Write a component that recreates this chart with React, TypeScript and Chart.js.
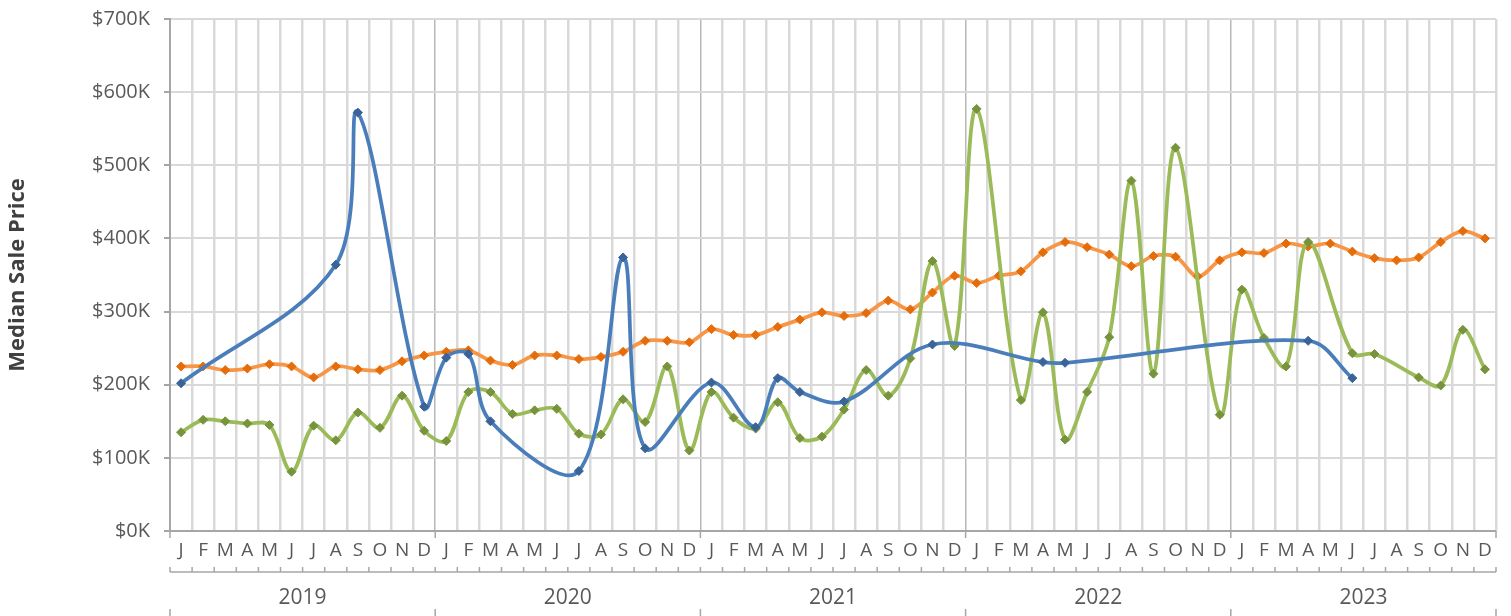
import React, { useEffect, useRef } from "react";
import { Chart, registerables } from "chart.js";

Chart.register(...registerables);

const months = ["J", "F", "M", "A", "M", "J", "J", "A", "S", "O", "N", "D"];
const years = ["2019", "2020", "2021", "2022", "2023"];
const categories: string[] = years.flatMap(() => months);

const yTicks = [0, 100, 200, 300, 400, 500, 600, 700];

// values in $K
const orangeSeries = [
  225, 225, 220, 222, 228, 225, 210, 225, 221, 220, 232, 240,
  245, 247, 233, 227, 240, 240, 235, 238, 245, 260, 260, 258,
  276, 268, 268, 279, 289, 299, 294, 298, 315, 303, 326, 349,
  339, 349, 355, 381, 395, 388, 378, 362, 376, 375, 348, 370,
  381, 380, 393, 389, 393, 382, 373, 370, 374, 395, 410, 400,
];

const greenSeries = [
  135, 152, 150, 147, 145, 81, 144, 124, 162, 141, 185, 137,
  123, 190, 190, 160, 165, 167, 133, 132, 180, 149, 225, 110,
  190, 155, 140, 176, 127, 129, 166, 220, 185, 236, 369, 253,
  577, null, 179, 299, 125, 190, 265, 479, 215, 524, null, 159,
  330, 264, 225, 395, null, 243, 242, null, 210, 199, 275, 221,
];

const blueSeries = [
  202, null, null, null, null, null, null, 364, 572, null, null, 170,
  237, 242, 150, null, null, null, 82, null, 374, 113, null, null,
  203, null, 142, 209, 190, null, 177, null, null, null, 255, null,
  null, null, null, 231, 230, null, null, null, null, null, null, null,
  null, null, null, 260, null, 209, null, null, null, null, null, null,
];

const FONT = "'Open Sans', 'Noto Sans', sans-serif";
const TEXT = "#595959";
const AXIS = "#a6a6a6";
const GRID = "#d9d9d9";

const axisDecor = {
  id: "axisDecor",
  afterDraw(chart: any) {
    const { ctx, chartArea } = chart;
    const n = categories.length;
    const left = chartArea.left;
    const right = chartArea.right;
    const step = (right - left) / n;
    const b = chartArea.bottom;
    const y2 = b + 41;
    const line = (x1: number, y1: number, x2: number, yy2: number) => {
      ctx.beginPath();
      ctx.moveTo(x1, y1);
      ctx.lineTo(x2, yy2);
      ctx.stroke();
    };
    ctx.save();
    ctx.strokeStyle = AXIS;
    ctx.lineWidth = 1.5;
    for (let g = 0; g <= years.length; g++) {
      const px = left + g * months.length * step;
      line(px, b, px, b + 7);
      line(px, y2 + 37, px, chart.height);
    }
    line(left, y2, right, y2);
    for (let i = 0; i <= n; i++) {
      const px = left + i * step;
      line(px, y2 - 5, px, y2);
    }
    ctx.fillStyle = TEXT;
    ctx.font = `21px ${FONT}`;
    ctx.textAlign = "center";
    ctx.textBaseline = "middle";
    years.forEach((yr, g) => {
      const cx = left + (g + 0.5) * months.length * step;
      ctx.fillText(yr, cx, y2 + 26);
    });
    ctx.restore();
  },
};

export default function App() {
  const ref = useRef<HTMLCanvasElement | null>(null);

  useEffect(() => {
    if (!ref.current) return;
    const common = {
      borderWidth: 3.75,
      pointStyle: "rectRot",
      pointRadius: 4.5,
      pointBorderWidth: 1,
      tension: 0.35,
      spanGaps: true,
      fill: false,
    };
    const chart = new Chart(ref.current, {
      type: "line",
      data: {
        labels: categories,
        datasets: [
          {
            ...common,
            label: "Blue",
            data: blueSeries,
            borderColor: "#4a7ebb",
            pointBackgroundColor: "#3a6398",
            pointBorderColor: "#3a6398",
            order: 0,
          },
          {
            ...common,
            label: "Green",
            data: greenSeries,
            borderColor: "#9bbb59",
            pointBackgroundColor: "#77933c",
            pointBorderColor: "#77933c",
            order: 1,
          },
          {
            ...common,
            label: "Orange",
            data: orangeSeries,
            borderColor: "#f79646",
            pointBackgroundColor: "#e46c0a",
            pointBorderColor: "#e46c0a",
            order: 2,
          },
        ],
      } as any,
      options: {
        animation: false,
        responsive: false,
        devicePixelRatio: 1,
        layout: { padding: { left: 0, top: 19, right: 15, bottom: 0 } },
        plugins: { legend: { display: false }, tooltip: { enabled: false } },
        scales: {
          x: {
            type: "category",
            offset: true,
            afterFit: (s: any) => {
              s.height = 85;
            },
            grid: {
              offset: true,
              drawTicks: false,
              color: (c: any) =>
                c.index % 12 === 0 ? "#b8b8b8" : GRID,
              lineWidth: (c: any) => (c.index % 12 === 0 ? 1.5 : 2.5),
            },
            border: { display: true, color: AXIS, width: 2 },
            ticks: {
              autoSkip: false,
              maxRotation: 0,
              padding: 8,
              color: TEXT,
              font: { family: FONT, size: 19 },
            },
          },
          y: {
            min: 0,
            max: 700,
            afterFit: (s: any) => {
              s.width = 170;
              s.paddingTop = 0;
              s.paddingBottom = 0;
            },
            afterBuildTicks: (s: any) => {
              s.ticks = yTicks.map((v) => ({ value: v }));
            },
            grid: {
              color: GRID,
              lineWidth: 2,
              drawTicks: true,
              tickLength: 6,
              tickColor: AXIS,
            },
            border: { display: true, color: AXIS, width: 2 },
            ticks: {
              padding: 14,
              color: TEXT,
              font: { family: FONT, size: 20 },
              callback: (v: any) => `$${v}K`,
            },
            title: {
              display: true,
              text: "Median Sale Price",
              color: "#404040",
              font: { family: FONT, size: 22, weight: "bold" },
              padding: { top: 5, bottom: 0 },
            },
          },
        },
      } as any,
      plugins: [axisDecor],
    });
    return () => chart.destroy();
  }, []);

  return (
    <div style={{ position: "absolute", left: 0, top: 0, width: 1511, height: 616, background: "#fff" }}>
      <canvas ref={ref} width={1511} height={616} style={{ display: "block" }} />
    </div>
  );
}
